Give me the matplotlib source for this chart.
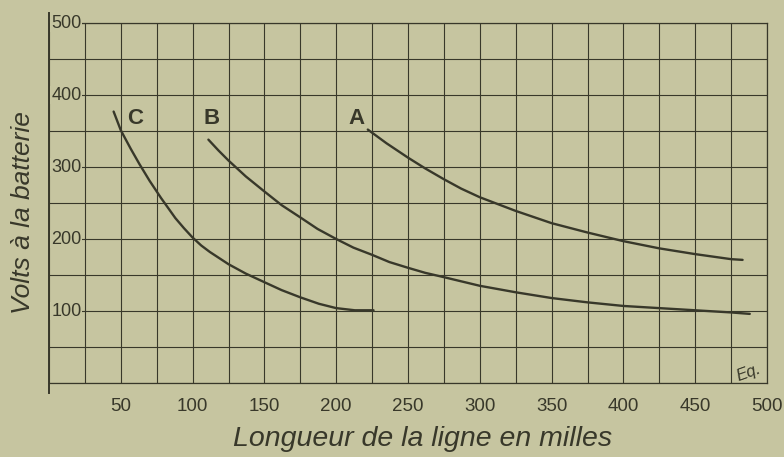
import matplotlib

matplotlib.use("Agg")
import matplotlib.pyplot as plt
from matplotlib.ticker import MultipleLocator

PAPER = "#c6c5a0"
INK = "#38382a"

# Curves: line length (miles) vs battery volts
a_miles = [222, 235, 250, 262, 275, 287, 300, 325, 350, 375, 400, 425, 450, 475, 483]
a_volts = [352, 333, 313, 298, 283, 270, 258, 239, 222, 209, 197, 187, 179, 172, 171]

b_miles = [111, 118, 125, 137, 150, 162, 175, 187, 200, 212, 225, 237, 250, 262, 275,
           300, 325, 350, 375, 400, 425, 450, 475, 488]
b_volts = [338, 323, 309, 287, 266, 247, 230, 214, 200, 188, 178, 168, 160, 153, 147,
           135, 126, 118, 112, 107, 104, 101, 98, 96]

c_miles = [45, 50, 57, 63, 70, 78, 88, 94, 100, 106, 112, 125, 137, 150, 162, 175, 188, 200, 213, 226]
c_volts = [377, 351, 325, 304, 281, 257, 229, 215, 202, 191, 182, 165, 152, 140, 129, 119, 110, 104, 101, 101]

x_ticks = [50, 100, 150, 200, 250, 300, 350, 400, 450, 500]
y_ticks = [100, 200, 300, 400, 500]

curve_names = ["A", "B", "C"]
name_x = [214, 113, 60]
name_y = [368, 368, 368]

plt.rcParams["font.family"] = ["Liberation Sans", "DejaVu Sans"]

fig = plt.figure(figsize=(7.84, 4.57), dpi=100, facecolor=PAPER)
ax = fig.add_axes([49 / 784, 74 / 457, 718 / 784, 360 / 457])
ax.set_facecolor(PAPER)
ax.set_xlim(0, 500)
ax.set_ylim(0, 500)

# graph-paper grid: 25 miles by 50 volts
ax.set_xticks(x_ticks, [str(v) for v in x_ticks])
ax.set_yticks(y_ticks, [])
ax.xaxis.set_minor_locator(MultipleLocator(25))
ax.yaxis.set_minor_locator(MultipleLocator(50))
ax.grid(which="both", color=INK, lw=0.8)
ax.tick_params(which="both", length=0)
ax.tick_params(axis="x", pad=11, labelsize=13.5, labelcolor=INK)
for side in ["top", "right", "bottom"]:
    ax.spines[side].set_color(INK)
    ax.spines[side].set_linewidth(0.9)
ax.spines["left"].set_visible(False)
ax.plot([0, 0], [-14, 514], color=INK, lw=1.4, clip_on=False, zorder=6)

# volt labels sit inside the first column, breaking the rule lines
for v in y_ticks:
    ax.text(1.5, v, str(v), ha="left", va="center", fontsize=13, color=INK,
            zorder=4, bbox=dict(fc=PAPER, ec="none", pad=0.5))

for xs, ys in [(a_miles, a_volts), (b_miles, b_volts), (c_miles, c_volts)]:
    ax.plot(xs, ys, color=INK, lw=1.7, solid_capstyle="round",
            solid_joinstyle="round", zorder=3)

for name, x, y in zip(curve_names, name_x, name_y):
    ax.text(x, y, name, ha="center", va="center", fontsize=16, fontweight="bold",
            color=INK, family=["Liberation Sans Narrow", "Liberation Sans"], zorder=4)

ax.text(487, 14, "Eq.", ha="center", va="center", fontsize=12, style="italic",
        rotation=20, color=INK, zorder=4)

fig.text(0.539, 0.024, "Longueur de la ligne en milles", ha="center", va="baseline",
         fontsize=20.5, style="italic", color=INK)
fig.text(0.029, 0.534, "Volts à la batterie", ha="center", va="center", rotation=90,
         fontsize=19, style="italic", color=INK)

fig.savefig("out.png", dpi=100, facecolor=PAPER)
